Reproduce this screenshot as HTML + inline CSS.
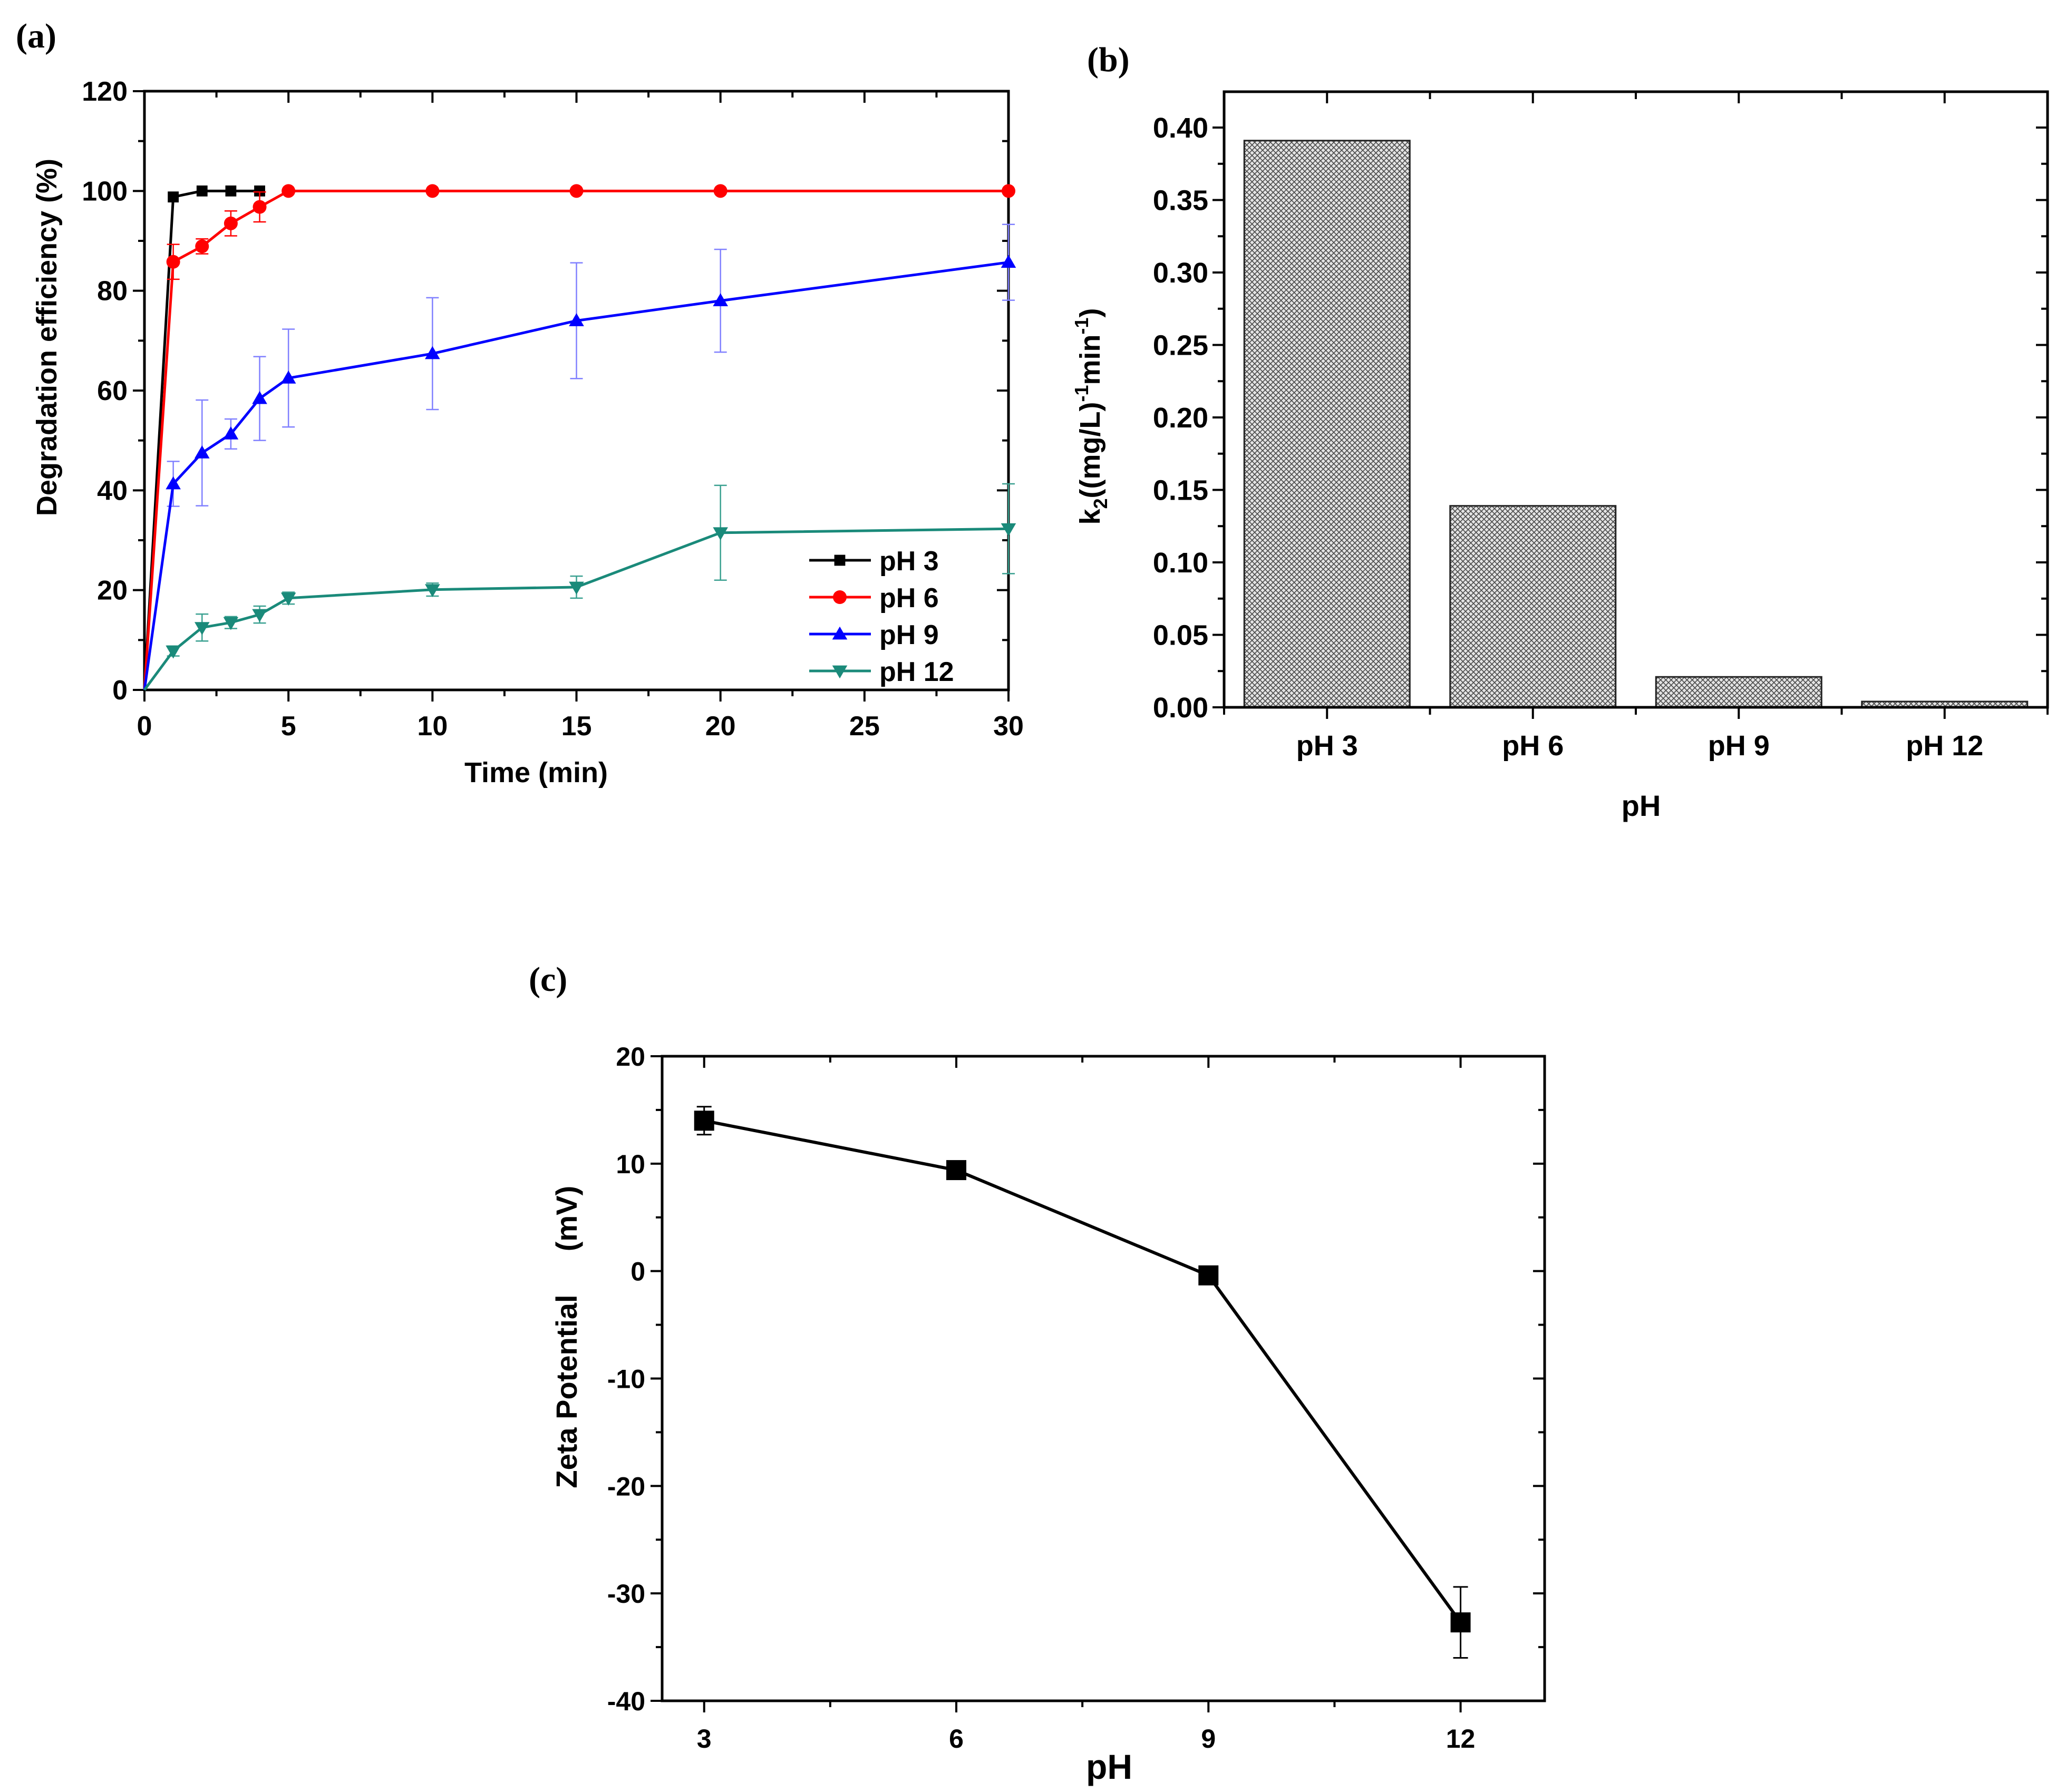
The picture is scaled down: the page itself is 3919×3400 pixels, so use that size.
<!DOCTYPE html>
<html><head><meta charset="utf-8"><style>
html,body{margin:0;padding:0;background:#fff}
svg{display:block}
text{font-family:"Liberation Sans",Arial,sans-serif;font-weight:bold;fill:#000}
.pl{font-family:"Liberation Serif",serif;font-size:66px}
</style></head><body>
<svg id="fig" width="3919" height="3400" viewBox="0 0 3919 3400" xmlns="http://www.w3.org/2000/svg">
<defs>
<pattern id="hatch" width="10" height="10" patternUnits="userSpaceOnUse">
<rect width="10" height="10" fill="#e4e4e4"/>
<path d="M0,0 L10,10 M10,0 L0,10" stroke="#4a4a4a" stroke-width="1.6"/>
</pattern>
</defs>
<text class="pl" x="30" y="90">(a)</text>
<text class="pl" x="2062" y="135">(b)</text>
<text class="pl" x="1003" y="1880">(c)</text>
<g id="ga"></g>
<g id="gb"></g>
<g id="gc"></g>
</svg>
<script>
// ---- Chart A data ----
const timesA = [0,1,2,3,4,5,10,15,20,30];
const ph3Vals = [0,98.8,100,100,100,100,100,100,100,100];
const ph6Vals = [0,85.8,88.9,93.5,96.8,100,100,100,100,100];
const ph6Err = [0,3.5,1.5,2.5,3,0,0,0,0,0];
const ph9Vals = [0,41.3,47.5,51.3,58.4,62.5,67.4,74,78,85.7];
const ph9Err = [0,4.5,10.6,3,8.4,9.8,11.2,11.6,10.3,7.6];
const ph12Vals = [0,7.8,12.5,13.5,15.1,18.4,20.1,20.6,31.5,32.3];
const ph12Err = [0,1,2.7,1.2,1.7,1.2,1.3,2.2,9.5,9];
const xTicksA = [0,5,10,15,20,25,30];
const yTicksA = [0,20,40,60,80,100,120];
const legendA = ["pH 3","pH 6","pH 9","pH 12"];
// ---- Chart B data ----
const catsB = ["pH 3","pH 6","pH 9","pH 12"];
const valsB = [0.391,0.139,0.021,0.004];
const yTicksB = ["0.00","0.05","0.10","0.15","0.20","0.25","0.30","0.35","0.40"];
// ---- Chart C data ----
const phC = [3,6,9,12];
const zetaC = [14,9.4,-0.4,-32.7];
const zetaErr = [1.3,0.6,0.3,3.3];
const xTicksC = [3,6,9,12];
const yTicksC = [20,10,0,-10,-20,-30,-40];

const NS="http://www.w3.org/2000/svg";
function mk(parent,tag,attrs,txt){const e=document.createElementNS(NS,tag);for(const k in attrs)e.setAttribute(k,attrs[k]);if(txt!==undefined)e.textContent=txt;parent.appendChild(e);return e;}

// ================= Chart A =================
(function(){
const g=document.getElementById('ga');
const L=274,R=1913,T=173,B=1309;
const X=t=>L+t*(R-L)/30, Y=v=>B-v*(B-T)/120;
const frame=mk(g,'rect',{x:L,y:T,width:R-L,height:B-T,fill:'none',stroke:'#000','stroke-width':5});

for(let v=0;v<=120;v+=10){const len=v%20===0?22:12;mk(g,'line',{x1:L-len,y1:Y(v),x2:L,y2:Y(v),stroke:'#000','stroke-width':4});mk(g,'line',{x1:R,y1:Y(v),x2:R-len,y2:Y(v),stroke:'#000','stroke-width':4});}
for(let t=0;t<=30;t+=2.5){const len=t%5===0?22:12;mk(g,'line',{x1:X(t),y1:B,x2:X(t),y2:B+len,stroke:'#000','stroke-width':4});mk(g,'line',{x1:X(t),y1:T,x2:X(t),y2:T+len,stroke:'#000','stroke-width':4});}
yTicksA.forEach(v=>{const e=mk(g,'text',{x:L-32,y:Y(v)+18,'text-anchor':'end','font-size':52},String(v));});
xTicksA.forEach(v=>{const e=mk(g,'text',{x:X(v),y:1395,'text-anchor':'middle','font-size':52},String(v));});
const yt=mk(g,'text',{x:0,y:0,'text-anchor':'middle','font-size':54,transform:'translate(107,640) rotate(-90)'},'Degradation efficiency (%)');

const xt=mk(g,'text',{x:1017,y:1484,'text-anchor':'middle','font-size':54},'Time (min)');

const series=[
 {vals:ph3Vals,err:null,color:'#000',mark:'sq',n:'series-ph3',idx:[0,1,2,3,4]},
 {vals:ph6Vals,err:ph6Err,color:'#f00',mark:'ci',n:'series-ph6'},
 {vals:ph9Vals,err:ph9Err,color:'#00f',mark:'up',n:'series-ph9',ebc:'#8080ff'},
 {vals:ph12Vals,err:ph12Err,color:'#1a8a7a',mark:'dn',n:'series-ph12',ebc:'#3aa090'}];
function marker(p,type,x,y,c,s){
 if(type==='sq')return mk(p,'rect',{x:x-s*0.8,y:y-s*0.8,width:s*1.6,height:s*1.6,fill:c});
 if(type==='ci')return mk(p,'circle',{cx:x,cy:y,r:s,fill:c});
 if(type==='up')return mk(p,'polygon',{points:`${x},${y-s*1.1} ${x-s*1.1},${y+s*0.8} ${x+s*1.1},${y+s*0.8}`,fill:c});
 return mk(p,'polygon',{points:`${x},${y+s*1.1} ${x-s*1.1},${y-s*0.8} ${x+s*1.1},${y-s*0.8}`,fill:c});
}
series.forEach(s=>{
 const sg=mk(g,'g',{});
 const idx=s.idx||timesA.map((_,i)=>i);
 if(s.err){idx.forEach(i=>{if(!s.err[i])return;const x=X(timesA[i]),y1=Y(s.vals[i]-s.err[i]),y2=Y(s.vals[i]+s.err[i]);
  mk(sg,'line',{x1:x,y1:y1,x2:x,y2:y2,stroke:s.ebc||s.color,'stroke-width':2.5});
  mk(sg,'line',{x1:x-12,y1:y1,x2:x+12,y2:y1,stroke:s.ebc||s.color,'stroke-width':2.5});
  mk(sg,'line',{x1:x-12,y1:y2,x2:x+12,y2:y2,stroke:s.ebc||s.color,'stroke-width':2.5});});}
 mk(sg,'polyline',{points:idx.map(i=>X(timesA[i])+','+Y(s.vals[i])).join(' '),fill:'none',stroke:s.color,'stroke-width':5});
 idx.forEach(i=>{if(i===0)return;const m=marker(sg,s.mark,X(timesA[i]),Y(s.vals[i]),s.color,13);});
});
const ly=[1063,1133,1203,1273];
legendA.forEach((l,i)=>{const s=series[i];const lg=mk(g,'g',{});
 mk(lg,'line',{x1:1535,y1:ly[i],x2:1652,y2:ly[i],stroke:s.color,'stroke-width':5});
 marker(lg,s.mark,1593,ly[i],s.color,13);
 mk(lg,'text',{x:1668,y:ly[i]+19,'font-size':52},l);});
})();

// ================= Chart B =================
(function(){
const g=document.getElementById('gb');
const L=2322,R=3884,T=174,B=1342;const Y0=1342,Y40=242;
const Y=v=>Y0-v*(Y0-Y40)/0.4;
const n=catsB.length,step=(R-L)/n,bw=314;
const CX=i=>L+step*(i+0.5);
catsB.forEach((c,i)=>{const r=mk(g,'rect',{x:CX(i)-bw/2,y:Y(valsB[i]),width:bw,height:Y0-Y(valsB[i]),fill:'url(#hatch)',stroke:'#222','stroke-width':3});
 });
const frame=mk(g,'rect',{x:L,y:T,width:R-L,height:B-T,fill:'none',stroke:'#000','stroke-width':5});

for(let k=0;k<=16;k++){const v=k*0.025;const y=Y(v);if(y<T)continue;const len=k%2===0?22:12;mk(g,'line',{x1:L-len,y1:y,x2:L,y2:y,stroke:'#000','stroke-width':4});mk(g,'line',{x1:R,y1:y,x2:R-len,y2:y,stroke:'#000','stroke-width':4});}
for(let k=0;k<=2*n;k++){const x=L+k*step/2;const len=k%2===1?22:14;mk(g,'line',{x1:x,y1:B,x2:x,y2:B+len,stroke:'#000','stroke-width':4});mk(g,'line',{x1:x,y1:T,x2:x,y2:T+len,stroke:'#000','stroke-width':4});}
yTicksB.forEach(t=>{const e=mk(g,'text',{x:L-30,y:Y(parseFloat(t))+19,'text-anchor':'end','font-size':54},t);});
catsB.forEach((c,i)=>{const e=mk(g,'text',{x:CX(i),y:1433,'text-anchor':'middle','font-size':54},c);});
const xt=mk(g,'text',{x:3113,y:1548,'text-anchor':'middle','font-size':56},'pH');

const yt=mk(g,'text',{x:0,y:0,'text-anchor':'middle','font-size':54,transform:'translate(2086,790) rotate(-90)'});

yt.innerHTML='k<tspan font-size="36" dy="14">2</tspan><tspan dy="-14">((mg/L)</tspan><tspan font-size="36" dy="-22">-1</tspan><tspan dy="22">min</tspan><tspan font-size="36" dy="-22">-1</tspan><tspan dy="22">)</tspan>';
})();

// ================= Chart C =================
(function(){
const g=document.getElementById('gc');
const L=1256,R=2930,T=2004,B=3227;
const X=p=>L+(p-2.5)*(R-L)/10.5, Y=v=>B-(v+40)*(B-T)/60;
const frame=mk(g,'rect',{x:L,y:T,width:R-L,height:B-T,fill:'none',stroke:'#000','stroke-width':5});

for(let v=-40;v<=20;v+=5){const len=v%10===0?22:12;mk(g,'line',{x1:L-len,y1:Y(v),x2:L,y2:Y(v),stroke:'#000','stroke-width':4});mk(g,'line',{x1:R,y1:Y(v),x2:R-len,y2:Y(v),stroke:'#000','stroke-width':4});}
for(let p=3;p<=12;p+=1.5){const len=(p%3===0)?22:12;mk(g,'line',{x1:X(p),y1:B,x2:X(p),y2:B+len,stroke:'#000','stroke-width':4});mk(g,'line',{x1:X(p),y1:T,x2:X(p),y2:T+len,stroke:'#000','stroke-width':4});}
yTicksC.forEach(v=>{const e=mk(g,'text',{x:L-32,y:Y(v)+18,'text-anchor':'end','font-size':50},String(v));});
xTicksC.forEach(v=>{const e=mk(g,'text',{x:X(v),y:3316,'text-anchor':'middle','font-size':50},String(v));});
const xt=mk(g,'text',{x:2104,y:3375,'text-anchor':'middle','font-size':66},'pH');

const yt=mk(g,'text',{x:0,y:0,'text-anchor':'middle','font-size':56,transform:'translate(1094,2640) rotate(-90)'},'Zeta Potential');

const yu=mk(g,'text',{x:0,y:0,'text-anchor':'middle','font-size':56,transform:'translate(1094,2312) rotate(-90)'},'(mV)');

const sg=mk(g,'g',{});
mk(sg,'polyline',{points:phC.map((p,i)=>X(p)+','+Y(zetaC[i])).join(' '),fill:'none',stroke:'#000','stroke-width':6});
phC.forEach((p,i)=>{const x=X(p),y1=Y(zetaC[i]-zetaErr[i]),y2=Y(zetaC[i]+zetaErr[i]);
 mk(sg,'line',{x1:x,y1:y1,x2:x,y2:y2,stroke:'#000','stroke-width':3});
 mk(sg,'line',{x1:x-14,y1:y1,x2:x+14,y2:y1,stroke:'#000','stroke-width':3});
 mk(sg,'line',{x1:x-14,y1:y2,x2:x+14,y2:y2,stroke:'#000','stroke-width':3});
 const m=mk(sg,'rect',{x:x-19,y:Y(zetaC[i])-19,width:38,height:38,fill:'#000'});
 });
})();
</script>
</body></html>
